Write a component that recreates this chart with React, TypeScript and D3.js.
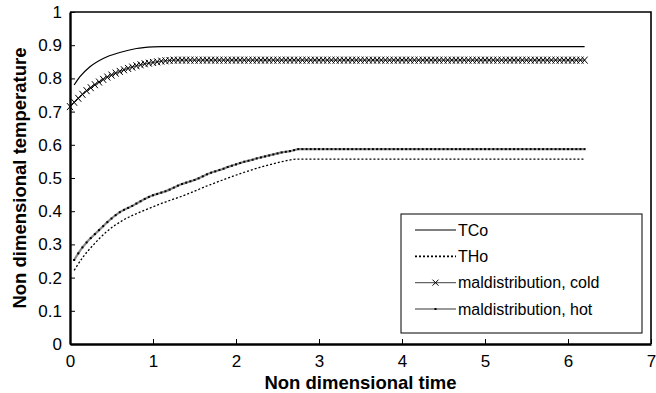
import { useRef, useEffect } from "react";
import * as d3 from "d3";

// solid line, cold outlet
const tcoTime = [0.05, 0.12, 0.24, 0.4, 0.6, 0.8, 1.0, 1.1, 6.2];
const tcoValue = [0.78, 0.805, 0.835, 0.86, 0.878, 0.89, 0.895, 0.896, 0.896];

// dotted line, hot outlet
const thoTime = [0.05, 0.16, 0.28, 0.44, 0.64, 0.88, 1.12, 1.41, 1.61, 1.85, 2.05, 2.33, 2.55, 2.75, 6.2];
const thoValue = [0.222, 0.263, 0.298, 0.338, 0.373, 0.401, 0.425, 0.451, 0.472, 0.495, 0.513, 0.535, 0.549, 0.557, 0.557];

// maldistribution series, sampled every 0.05
const timeStep = 0.05;
const coldStart = 0.0;
const coldValue = [
  0.715, 0.728, 0.74, 0.752, 0.763, 0.772, 0.781, 0.789, 0.797, 0.804,
  0.81, 0.816, 0.821, 0.826, 0.83, 0.834, 0.838, 0.841, 0.844, 0.846,
  0.848, 0.85, 0.852, 0.853, 0.854, 0.855, 0.855, 0.855, 0.855, 0.855,
  0.855, 0.855, 0.855, 0.855, 0.855, 0.855, 0.855, 0.855, 0.855, 0.855,
  0.855, 0.855, 0.855, 0.855, 0.855, 0.855, 0.855, 0.855, 0.855, 0.855,
  0.855, 0.855, 0.855, 0.855, 0.855, 0.855, 0.855, 0.855, 0.855, 0.855,
  0.855, 0.855, 0.855, 0.855, 0.855, 0.855, 0.855, 0.855, 0.855, 0.855,
  0.855, 0.855, 0.855, 0.855, 0.855, 0.855, 0.855, 0.855, 0.855, 0.855,
  0.855, 0.855, 0.855, 0.855, 0.855, 0.855, 0.855, 0.855, 0.855, 0.855,
  0.855, 0.855, 0.855, 0.855, 0.855, 0.855, 0.855, 0.855, 0.855, 0.855,
  0.855, 0.855, 0.855, 0.855, 0.855, 0.855, 0.855, 0.855, 0.855, 0.855,
  0.855, 0.855, 0.855, 0.855, 0.855, 0.855, 0.855, 0.855, 0.855, 0.855,
  0.855, 0.855, 0.855, 0.855, 0.855,
];
const hotStart = 0.05;
const hotValue = [
  0.253, 0.273, 0.291, 0.306, 0.319, 0.331, 0.343, 0.355, 0.367, 0.378,
  0.388, 0.397, 0.404, 0.41, 0.416, 0.423, 0.43, 0.437, 0.443, 0.448,
  0.452, 0.456, 0.46, 0.465, 0.471, 0.477, 0.482, 0.486, 0.49, 0.494,
  0.499, 0.505, 0.511, 0.516, 0.52, 0.524, 0.528, 0.533, 0.537, 0.541,
  0.545, 0.549, 0.552, 0.555, 0.559, 0.562, 0.565, 0.568, 0.571, 0.574,
  0.577, 0.579, 0.581, 0.584, 0.587, 0.587, 0.587, 0.587, 0.587, 0.587,
  0.587, 0.587, 0.587, 0.587, 0.587, 0.587, 0.587, 0.587, 0.587, 0.587,
  0.587, 0.587, 0.587, 0.587, 0.587, 0.587, 0.587, 0.587, 0.587, 0.587,
  0.587, 0.587, 0.587, 0.587, 0.587, 0.587, 0.587, 0.587, 0.587, 0.587,
  0.587, 0.587, 0.587, 0.587, 0.587, 0.587, 0.587, 0.587, 0.587, 0.587,
  0.587, 0.587, 0.587, 0.587, 0.587, 0.587, 0.587, 0.587, 0.587, 0.587,
  0.587, 0.587, 0.587, 0.587, 0.587, 0.587, 0.587, 0.587, 0.587, 0.587,
  0.587, 0.587, 0.587, 0.587,
];

const xTicks = [0, 1, 2, 3, 4, 5, 6, 7];
const yTicks = [0, 0.1, 0.2, 0.3, 0.4, 0.5, 0.6, 0.7, 0.8, 0.9, 1];
const legendLabels = ["TCo", "THo", "maldistribution, cold", "maldistribution, hot"];

const FONT = "'Liberation Sans', Arial, sans-serif";

const App = () => {
  const divRef = useRef(null);

  useEffect(() => {
    if (!divRef.current) return;
    const width = 656;
    const height = 393;
    const margin = { left: 70, right: 5, top: 12, bottom: 49 };
    d3.select(divRef.current).selectAll("svg").remove();

    const svg = d3
      .select(divRef.current)
      .append("svg")
      .attr("width", width)
      .attr("height", height)
      .style("display", "block")
      .style("font-family", FONT);

    const x = d3.scaleLinear().domain([0, 7]).range([margin.left, width - margin.right]);
    const y = d3.scaleLinear().domain([0, 1]).range([height - margin.bottom, margin.top]);

    const toPts = (ts, vs) => ts.map((t, i) => [t, vs[i]]);
    const sampled = (start, vs) => vs.map((v, i) => [start + i * timeStep, v]);

    const line = d3
      .line()
      .x((d) => x(d[0]))
      .y((d) => y(d[1]))
      .curve(d3.curveMonotoneX);

    const coldPts = sampled(coldStart, coldValue);
    const hotPts = sampled(hotStart, hotValue);

    // hot maldistribution
    svg.append("path").attr("d", line(hotPts)).attr("fill", "none")
      .attr("stroke", "#8a8a8a").attr("stroke-width", 2.2);
    svg.append("g").selectAll("rect").data(hotPts).join("rect")
      .attr("x", (d) => x(d[0]) - 1).attr("y", (d) => y(d[1]) - 1)
      .attr("width", 2).attr("height", 2).attr("fill", "#000");

    // THo
    svg.append("path").attr("d", line(toPts(thoTime, thoValue))).attr("fill", "none")
      .attr("stroke", "#000").attr("stroke-width", 1.3).attr("stroke-dasharray", "2,2");

    // TCo
    svg.append("path").attr("d", line(toPts(tcoTime, tcoValue))).attr("fill", "none")
      .attr("stroke", "#000").attr("stroke-width", 1.2);

    // cold maldistribution
    svg.append("path").attr("d", line(coldPts)).attr("fill", "none")
      .attr("stroke", "#555").attr("stroke-width", 1.2);
    svg.append("g").selectAll("path").data(coldPts).join("path")
      .attr("transform", (d) => `translate(${x(d[0])},${y(d[1])})`)
      .attr("d", "M-3,-3.5L3,3.5M-3,3.5L3,-3.5")
      .attr("stroke", "#000").attr("stroke-width", 1);

    // frame
    const x0 = x(0), x1 = x(7), y0 = y(0), y1 = y(1);
    svg.append("path").attr("d", `M${x0},${y1}H${x1}V${y0}`).attr("fill", "none")
      .attr("stroke", "#000").attr("stroke-width", 1.6);

    // axes with inward ticks
    const xAxis = svg.append("g").attr("transform", `translate(0,${y0})`)
      .call(d3.axisBottom(x).tickValues(xTicks).tickSizeInner(-5).tickSizeOuter(0).tickPadding(11).tickFormat(d3.format("d")));
    const yAxis = svg.append("g").attr("transform", `translate(${x0},0)`)
      .call(d3.axisLeft(y).tickValues(yTicks).tickSizeInner(-5).tickSizeOuter(0).tickPadding(8).tickFormat((d) => (d === 0 || d === 1 ? String(d) : d3.format(".1f")(d))));
    [xAxis, yAxis].forEach((g) => {
      g.select(".domain").attr("stroke", "#000").attr("stroke-width", 2.4);
      g.selectAll(".tick line").attr("stroke", "#000").attr("stroke-width", 1);
      g.selectAll(".tick text").attr("fill", "#000").style("font-size", "17px").style("font-family", FONT);
    });

    // axis titles
    svg.append("text").attr("x", (x0 + x1) / 2).attr("y", 389).attr("text-anchor", "middle")
      .style("font-size", "18.5px").style("font-weight", "bold").text("Non dimensional time");
    svg.append("text").attr("transform", `translate(26,${(y0 + y1) / 2}) rotate(-90)`)
      .attr("text-anchor", "middle").style("font-size", "18.5px").style("font-weight", "bold")
      .text("Non dimensional temperature");

    // legend
    const lg = svg.append("g").attr("transform", "translate(401,214)");
    lg.append("rect").attr("width", 241).attr("height", 119).attr("fill", "#fff")
      .attr("stroke", "#000").attr("stroke-width", 1);
    const rowY = d3.scalePoint().domain(legendLabels).range([16, 95]);
    legendLabels.forEach((lab, i) => {
      const yy = rowY(lab);
      const ln = lg.append("line").attr("x1", 14).attr("x2", 55).attr("y1", yy).attr("y2", yy);
      if (i === 0) ln.attr("stroke", "#000").attr("stroke-width", 1.2);
      if (i === 1) ln.attr("stroke", "#000").attr("stroke-width", 1.6).attr("stroke-dasharray", "2,2");
      if (i === 2) {
        ln.attr("stroke", "#666").attr("stroke-width", 1.3);
        lg.append("path").attr("transform", `translate(34.5,${yy})`)
          .attr("d", "M-3,-3L3,3M-3,3L3,-3").attr("stroke", "#000").attr("stroke-width", 1);
      }
      if (i === 3) {
        ln.attr("stroke", "#777").attr("stroke-width", 1.6);
        lg.append("rect").attr("x", 33.5).attr("y", yy - 1).attr("width", 2).attr("height", 2).attr("fill", "#000");
      }
      lg.append("text").attr("x", 57).attr("y", yy).attr("dy", "0.35em")
        .style("font-size", "16px").text(lab);
    });
  }, []);

  return (
    <div>
      <style>{"body{margin:0}"}</style>
      <div ref={divRef}></div>
    </div>
  );
};

export default App;
